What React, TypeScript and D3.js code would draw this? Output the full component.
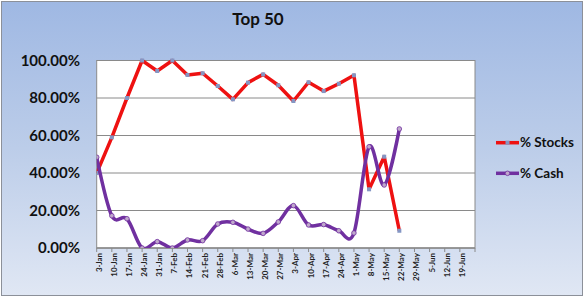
import React from "react";
import * as d3 from "d3";

const categories = ["3-Jan","10-Jan","17-Jan","24-Jan","31-Jan","7-Feb","14-Feb","21-Feb","28-Feb","6-Mar","13-Mar","20-Mar","27-Mar","3-Apr","10-Apr","17-Apr","24-Apr","1-May","8-May","15-May","22-May","29-May","5-Jun","12-Jun","19-Jun"];
const stocks = [40, 59, 80, 100, 94.4, 100, 92.3, 93.2, 86.4, 79.3, 88.2, 92.6, 86.8, 78.4, 88.4, 83.7, 87.6, 92.1, 31.3, 48.7, 9.2];
const cash = [48.4, 17.2, 15.6, 0, 3.4, 0, 4.3, 3.9, 12.8, 13.7, 10.1, 7.8, 13.9, 22.6, 12.3, 12.5, 9.2, 8.0, 54, 33.6, 63.5];
const yTicks = [0, 20, 40, 60, 80, 100];
const seriesNames = ["% Stocks", "% Cash"];

const W = 585, H = 300;
const plot = { left: 96.7, right: 475, top: 60.5, bottom: 248 };
const FONT = "Lato, 'Open Sans', sans-serif";

export default function App() {
  const x = d3.scaleLinear().domain([0, categories.length]).range([plot.left, plot.right]);
  const y = d3.scaleLinear().domain([0, 100]).range([plot.bottom, plot.top]);
  const lineStraight = d3.line<number>().x((_, i) => x(i)).y(d => y(d)).curve(d3.curveLinear);
  const lineSmooth = d3.line<number>().x((_, i) => x(i)).y(d => y(d)).curve(d3.curveCatmullRom.alpha(0));
  const ticksX = d3.range(categories.length + 1);

  return (
    <svg width={W} height={H} style={{ position: "absolute", left: 0, top: 0 }} xmlns="http://www.w3.org/2000/svg">
      <defs>
        <linearGradient id="bg" x1="0" y1="0" x2="0" y2="1">
          <stop offset="0" stopColor="#9fb8e3" />
          <stop offset="0.5" stopColor="#bccde9" />
          <stop offset="1" stopColor="#e0e7f4" />
        </linearGradient>
        <clipPath id="clip">
          <rect x={plot.left} y={plot.top - 3} width={plot.right - plot.left} height={plot.bottom - plot.top + 3} />
        </clipPath>
      </defs>
      <rect x={1.5} y={1.5} width={581} height={294} fill="url(#bg)" stroke="#8c9099" strokeWidth={1} />
      <text x={258} y={25} textAnchor="middle" fontFamily={FONT} fontWeight="bold" fontSize={17} fill="#111">Top 50</text>

      <rect x={plot.left} y={plot.top} width={plot.right - plot.left} height={plot.bottom - plot.top} fill="#fff" stroke="#8a8a8a" strokeWidth={1} />
      {yTicks.map(t => (
        <g key={t}>
          <line x1={plot.left} x2={plot.right} y1={y(t)} y2={y(t)} stroke="#8a8a8a" strokeWidth={1} />
          <text x={80} y={y(t) + 5} textAnchor="end" fontFamily={FONT} fontWeight="bold" fontSize={15} fill="#111">{t.toFixed(2)}%</text>
        </g>
      ))}
      <line x1={plot.left} x2={plot.right} y1={plot.bottom} y2={plot.bottom} stroke="#8a8a8a" />
      {ticksX.map(i => (
        <line key={i} x1={x(i)} x2={x(i)} y1={plot.bottom} y2={plot.bottom + 4} stroke="#8a8a8a" />
      ))}
      {categories.map((c, i) => (
        <text key={c} transform={`translate(${x(i) + 5},${plot.bottom + 5}) rotate(-90)`} textAnchor="end" fontFamily={FONT} fontWeight="bold" fontSize={8} fill="#222">{c}</text>
      ))}

      <g clipPath="url(#clip)">
        <path d={lineStraight(stocks) || ""} fill="none" stroke="#ee1111" strokeWidth={3.5} strokeLinejoin="round" />
        {stocks.map((v, i) => (
          <rect key={i} x={x(i) - 2} y={y(v) - 2} width={4} height={4} fill="#8496c4" />
        ))}
        <path d={lineSmooth(cash) || ""} fill="none" stroke="#7030a0" strokeWidth={3.5} strokeLinejoin="round" />
        {cash.map((v, i) => (
          <circle key={i} cx={x(i)} cy={y(v)} r={2.3} fill="#c0a8cc" stroke="#7030a0" strokeWidth={0.8} />
        ))}
      </g>

      {seriesNames.map((n, k) => {
        const ly = k === 0 ? 142.7 : 173.3;
        const col = k === 0 ? "#ee1111" : "#7030a0";
        return (
          <g key={n}>
            <line x1={496} x2={519} y1={ly} y2={ly} stroke={col} strokeWidth={3.5} />
            {k === 0
              ? <rect x={505.5} y={ly - 2} width={4} height={4} fill="#8496c4" />
              : <circle cx={507.5} cy={ly} r={2.3} fill="#c0a8cc" stroke="#7030a0" strokeWidth={0.8} />}
            <text x={520} y={ly + 4.5} fontFamily={FONT} fontWeight="bold" fontSize={13.5} fill="#111">{n}</text>
          </g>
        );
      })}
    </svg>
  );
}
